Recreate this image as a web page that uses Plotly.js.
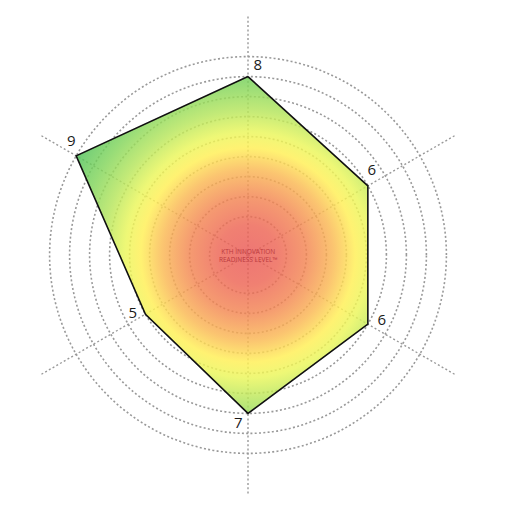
<!DOCTYPE html>
<html>
<head>
<meta charset="utf-8">
<script src="https://cdn.plot.ly/plotly-3.0.1.min.js"></script>
<style>
  html, body { margin: 0; padding: 0; background: #ffffff; }
  #chart { width: 512px; height: 512px; }
</style>
</head>
<body>
<div id="chart"></div>
<script>
// ---- data ----
var axisAngles = [90, 30, -30, -90, -150, 150];   // direction of each spoke (degrees)
var levels = [8, 6, 6, 7, 5, 9];                   // readiness level per spoke
var levelLabels = ['8', '6', '6', '7', '5', '9'];
var gridLevels = [1, 2, 3, 4, 5, 6, 7, 8, 9];
var centerTitle = 'KTH INNOVATION<br>READINESS LEVEL™';

// ---- label placement (style only) ----
var labelRadialPad = 0.55;
var labelAngleShift = [-3, 4, 3.5, -3.3, -3, -2.5];

var thetaClosed = axisAngles.concat([axisAngles[0]]);
var rClosed = levels.concat([levels[0]]);

var shape = {
  type: 'scatterpolar',
  mode: 'lines',
  r: rClosed,
  theta: thetaClosed,
  fill: 'toself',
  fillcolor: 'rgba(240,200,110,0.82)',
  line: { color: '#111111', width: 1.6 },
  hoverinfo: 'skip'
};

var labels = {
  type: 'scatterpolar',
  mode: 'text',
  r: levels.map(function (v) { return v + labelRadialPad; }),
  theta: axisAngles.map(function (a, i) { return a + labelAngleShift[i]; }),
  text: levelLabels,
  textposition: 'middle center',
  textfont: { family: 'Open Sans, sans-serif', size: 15, color: '#1a1a1a' },
  hoverinfo: 'skip',
  cliponaxis: false
};

var layout = {
  width: 512, height: 512,
  margin: { l: 8, r: 24, t: 15, b: 17 },
  paper_bgcolor: '#ffffff',
  showlegend: false,
  polar: {
    domain: { x: [0, 1], y: [0, 1] },
    bgcolor: 'rgba(0,0,0,0)',
    radialaxis: {
      range: [-0.92, 11.08],
      tickvals: gridLevels,
      showticklabels: false,
      ticks: '',
      showline: false,
      gridcolor: '#999999',
      gridwidth: 1.6,
      griddash: '2px,2.3px',
      angle: 90
    },
    angularaxis: {
      thetaunit: 'degrees',
      rotation: 0,
      direction: 'counterclockwise',
      tickmode: 'array',
      tickvals: [90, 30, 330, 270, 210, 150],
      showticklabels: false,
      ticks: '',
      showline: false,
      gridcolor: '#999999',
      gridwidth: 1.4,
      griddash: '2px,2.3px'
    }
  },
  annotations: [{
    xref: 'paper', yref: 'paper', x: 0.5, y: 0.5,
    text: centerTitle,
    showarrow: false,
    font: { family: 'Open Sans, sans-serif', size: 6.5, color: '#bb3a3e' },
    align: 'center'
  }]
};

var gd = document.getElementById('chart');
Plotly.newPlot(gd, [shape, labels], layout, { displayModeBar: false, staticPlot: true }).then(function () {
  var svgNS = 'http://www.w3.org/2000/svg';
  var fillPath = gd.querySelector('.polar .scatterlayer .trace .fills path');
  if (!fillPath) return;
  var sub = gd._fullLayout.polar && gd._fullLayout.polar._subplot;
  var cx, cy, rad;
  if (sub && isFinite(sub.cxx) && isFinite(sub.cyy)) {
    cx = sub.cxx; cy = sub.cyy; rad = sub.radius;
  } else {
    cx = 240; cy = 240; rad = 240;
  }
  var ra = gd._fullLayout.polar.radialaxis.range;
  var pxPerUnit = rad / (ra[1] - ra[0]);
  var gradR = pxPerUnit * (9 - ra[0]);
  var mainSvg = gd.querySelector('.main-svg');
  var defs = document.createElementNS(svgNS, 'defs');
  var grad = document.createElementNS(svgNS, 'radialGradient');
  grad.setAttribute('id', 'kthRadialGrad');
  grad.setAttribute('gradientUnits', 'userSpaceOnUse');
  grad.setAttribute('cx', cx);
  grad.setAttribute('cy', cy);
  grad.setAttribute('r', gradR);
  // colours chosen so that at 82% opacity over white they give the reference tones
  var stops = [
    [0.00, 'rgb(234,88,85)'],
    [0.15, 'rgb(237,100,83)'],
    [0.30, 'rgb(243,134,81)'],
    [0.43, 'rgb(250,183,81)'],
    [0.54, 'rgb(255,239,83)'],
    [0.62, 'rgb(234,246,88)'],
    [0.73, 'rgb(181,229,90)'],
    [0.86, 'rgb(127,212,90)'],
    [1.00, 'rgb(78,193,90)']
  ];
  stops.forEach(function (s) {
    var st = document.createElementNS(svgNS, 'stop');
    st.setAttribute('offset', s[0]);
    st.setAttribute('stop-color', s[1]);
    grad.appendChild(st);
  });
  defs.appendChild(grad);
  mainSvg.insertBefore(defs, mainSvg.firstChild);
  fillPath.style.fill = 'url(#kthRadialGrad)';
  fillPath.style.fillOpacity = 0.82;
});
</script>
</body>
</html>
